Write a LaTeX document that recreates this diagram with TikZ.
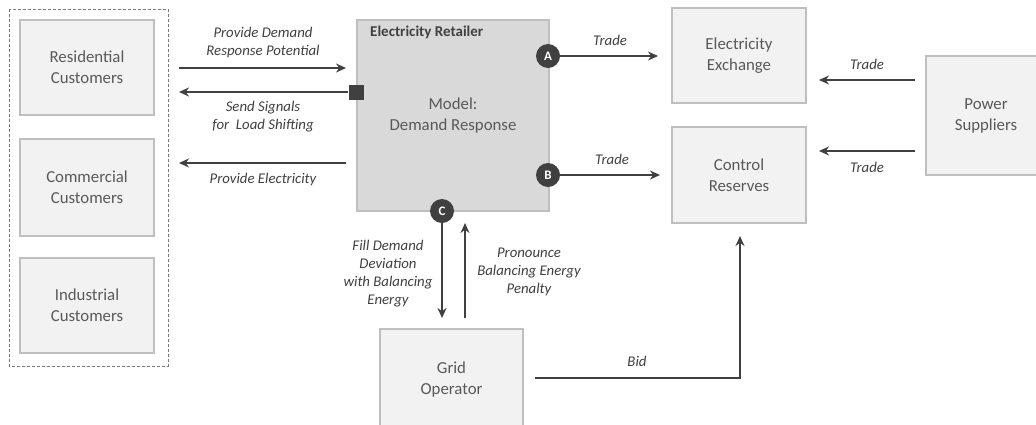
\documentclass[tikz,border=0pt]{standalone}
\usepackage{fontspec}
\setmainfont{Carlito}
\usetikzlibrary{arrows.meta}
\definecolor{boxfill}{HTML}{F2F2F2}
\definecolor{boxline}{HTML}{BFBFBF}
\definecolor{retfill}{HTML}{D9D9D9}
\definecolor{txtgray}{HTML}{595959}
\definecolor{dark}{HTML}{404040}
\tikzset{
  box/.style={draw=boxline, line width=1.2pt, fill=boxfill, rectangle, align=center,
    text=txtgray, font=\fontsize{16.8}{21}\selectfont, inner sep=0pt},
  lbl/.style={align=center, text=dark, font=\fontsize{14.8}{18}\selectfont\itshape, inner sep=0pt},
  arr/.style={draw=dark, line width=1.5pt, -{Stealth[length=10pt,width=9pt]}},
  badge/.style={circle, fill=dark, draw=none, minimum size=24pt, inner sep=0pt,
    text=white, font=\fontsize{13}{13}\selectfont\bfseries},
}
\begin{document}
\begin{tikzpicture}[x=1pt,y=-1pt]
\useasboundingbox (0,0) rectangle (1036,424);
\begin{scope}
\clip (0,0) rectangle (1036,424);
% group
\draw[dark!70, line width=1pt, dashed, dash pattern=on 3pt off 2pt] (9,9) rectangle (168,366);
\node[box, minimum width=134pt, minimum height=95pt] (res) at (87,67.5) {Residential\\Customers};
\node[box, minimum width=134pt, minimum height=97pt] (com) at (87,187.5) {Commercial\\Customers};
\node[box, minimum width=134pt, minimum height=95pt] (ind) at (87,305.5) {Industrial\\Customers};
% retailer
\node[box, fill=retfill, minimum width=192pt, minimum height=191pt] (ret) at (453,115.5) {Model:\\Demand Response};
\node[anchor=west, text=dark, font=\fontsize{15}{16}\selectfont\bfseries, inner sep=0pt] (rett) at (370,32) {Electricity Retailer};
% right boxes
\node[box, minimum width=134pt, minimum height=95pt] (exch) at (739,55.5) {Electricity\\Exchange};
\node[box, minimum width=134pt, minimum height=96pt] (ctrl) at (739,175) {Control\\Reserves};
\node[box, minimum width=120pt, minimum height=119pt] (pow) at (986,115.5) {Power\\Suppliers};
\node[box, minimum width=143pt, minimum height=101pt] (grid) at (451.5,379.5) {Grid\\Operator};
% badges
\node[fill=dark, minimum size=15pt, inner sep=0pt, rectangle] (sq) at (356,92) {};
\node[badge] (A) at (548,56) {A};
\node[badge] (B) at (548,175) {B};
\node[badge] (C) at (442,211) {C};
% coordinates
\coordinate (p1s) at (179,68);
\coordinate (p1e) at (346,68);
\coordinate (p2e) at (179,92);
\coordinate (p3s) at (346,163);
\coordinate (p3e) at (179,163);
\coordinate (ae) at (658,56);
\coordinate (be) at (660,175);
\coordinate (t1s) at (915,80);
\coordinate (t1e) at (819,80);
\coordinate (t2s) at (915,151);
\coordinate (t2e) at (819,151);
\coordinate (ce) at (442,318);
\coordinate (us) at (465,318);
\coordinate (ue) at (465,223);
\coordinate (bs) at (535,378);
\coordinate (be2) at (740,236);
% arrows
\draw[arr] (p1s) -- (p1e);
\draw[arr] (sq.west) -- (p2e);
\draw[arr] (p3s) -- (p3e);
\draw[arr] (A.east) -- (ae);
\draw[arr] (B.east) -- (be);
\draw[arr] (t1s) -- (t1e);
\draw[arr] (t2s) -- (t2e);
\draw[arr] (C.south) -- (ce);
\draw[arr] (us) -- (ue);
\draw[arr] (bs) -| (be2);
% labels
\node[lbl] (l1) at (263,43) {Provide Demand\\Response Potential};
\node[lbl] (l2) at (263,117) {Send Signals\\for\ \ Load Shifting};
\node[lbl] (l3) at (263,180) {Provide Electricity};
\node[lbl] (l4) at (610,40) {Trade};
\node[lbl] (l5) at (612,159) {Trade};
\node[lbl] (l6) at (867,64) {Trade};
\node[lbl] (l7) at (867,167) {Trade};
\node[lbl] (l8) at (388,274) {Fill Demand\\Deviation\\with Balancing\\Energy};
\node[lbl] (l9) at (529,272) {Pronounce\\Balancing Energy\\Penalty};
\node[lbl] (l10) at (637,361) {Bid};
\end{scope}
\end{tikzpicture}
\end{document}
